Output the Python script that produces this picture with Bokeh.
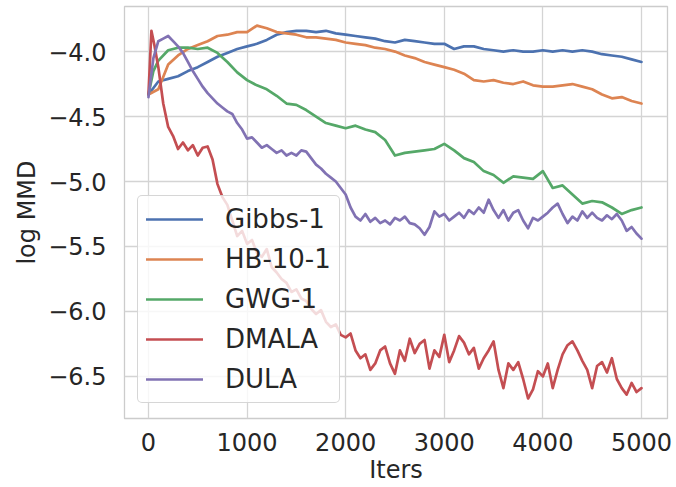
from bokeh.plotting import figure
from bokeh.models import Range1d, FixedTicker
from bokeh.embed import file_html
from bokeh.resources import INLINE

# ---------------- data ----------------
x_gibbs = list(range(0, 5001, 100))
y_gibbs = [-4.33, -4.23, -4.21, -4.19, -4.15, -4.12, -4.08, -4.04, -4.01, -3.98,
           -3.96, -3.94, -3.91, -3.87, -3.85, -3.84, -3.84, -3.85, -3.84, -3.86,
           -3.87, -3.88, -3.89, -3.90, -3.92, -3.93, -3.91, -3.92, -3.93, -3.94,
           -3.94, -3.98, -3.96, -3.96, -3.98, -3.99, -4.00, -3.99, -4.00, -4.00,
           -3.99, -4.00, -3.99, -4.00, -3.99, -4.00, -4.02, -4.03, -4.04, -4.06,
           -4.08]

x_hb = list(range(0, 5001, 100))
y_hb = [-4.33, -4.29, -4.10, -4.03, -3.98, -3.95, -3.92, -3.88, -3.87, -3.85,
        -3.85, -3.80, -3.82, -3.85, -3.86, -3.87, -3.89, -3.89, -3.90, -3.91,
        -3.93, -3.94, -3.95, -3.97, -3.98, -4.00, -4.03, -4.05, -4.08, -4.10,
        -4.12, -4.14, -4.17, -4.22, -4.23, -4.22, -4.24, -4.25, -4.23, -4.26,
        -4.27, -4.27, -4.26, -4.25, -4.27, -4.29, -4.33, -4.36, -4.35, -4.38,
        -4.40]

x_gwg = [0, 50] + list(range(100, 5001, 100))
y_gwg = [-4.33, -4.15, -4.07, -3.99, -3.97, -3.97, -3.98, -3.97, -4.01, -4.08,
         -4.16, -4.22, -4.26, -4.29, -4.34, -4.40, -4.41, -4.45, -4.50, -4.55,
         -4.57, -4.59, -4.57, -4.60, -4.62, -4.68, -4.80, -4.78, -4.77, -4.76,
         -4.75, -4.71, -4.76, -4.82, -4.85, -4.92, -4.95, -5.01, -4.96, -4.97,
         -4.98, -4.92, -5.05, -5.03, -5.10, -5.17, -5.15, -5.16, -5.20, -5.25,
         -5.22, -5.20]

x_dmala = [0, 30, 60] + list(range(100, 5001, 50))
y_dmala = [-4.33, -3.84, -3.95,
           -4.12, -4.40, -4.58, -4.65, -4.75, -4.70, -4.76, -4.72, -4.80, -4.74,
           -4.73, -4.83, -5.02, -5.12, -5.18, -5.30, -5.42, -5.38, -5.48, -5.45,
           -5.55, -5.58, -5.52, -5.66, -5.70, -5.75, -5.78, -5.85, -5.83, -5.90,
           -5.92, -5.98, -6.02, -5.99, -6.08, -6.12, -6.10, -6.18, -6.20, -6.17,
           -6.30, -6.36, -6.33, -6.45, -6.40, -6.30, -6.27, -6.40, -6.48, -6.30,
           -6.38, -6.21, -6.32, -6.25, -6.22, -6.44, -6.30, -6.35, -6.18, -6.39,
           -6.30, -6.19, -6.24, -6.33, -6.28, -6.44, -6.36, -6.30, -6.23, -6.45,
           -6.59, -6.40, -6.45, -6.39, -6.52, -6.67, -6.60, -6.46, -6.50, -6.40,
           -6.59, -6.45, -6.33, -6.26, -6.23, -6.30, -6.38, -6.45, -6.59, -6.42,
           -6.39, -6.47, -6.36, -6.52, -6.59, -6.64, -6.55, -6.62, -6.59]

x_dula = list(range(0, 5001, 50))
y_dula = [-4.35, -4.05, -3.92, -3.90, -3.88, -3.92, -3.96, -4.01, -4.08, -4.15,
          -4.21, -4.27, -4.32, -4.36, -4.40, -4.43, -4.46, -4.48, -4.55, -4.60,
          -4.67, -4.66, -4.70, -4.74, -4.72, -4.75, -4.78, -4.76, -4.80, -4.78,
          -4.80, -4.76, -4.77, -4.82, -4.87, -4.90, -4.94, -4.97, -5.00, -5.05,
          -5.10, -5.20, -5.27, -5.30, -5.25, -5.31, -5.28, -5.32, -5.30, -5.33,
          -5.28, -5.30, -5.27, -5.32, -5.33, -5.36, -5.41, -5.35, -5.23, -5.27,
          -5.25, -5.30, -5.27, -5.24, -5.28, -5.22, -5.25, -5.20, -5.24, -5.14,
          -5.22, -5.28, -5.22, -5.30, -5.24, -5.22, -5.30, -5.36, -5.28, -5.30,
          -5.27, -5.24, -5.20, -5.17, -5.25, -5.32, -5.27, -5.30, -5.23, -5.28,
          -5.24, -5.28, -5.30, -5.26, -5.29, -5.25, -5.30, -5.38, -5.35, -5.40,
          -5.44]

series_names = ["Gibbs-1", "HB-10-1", "GWG-1", "DMALA", "DULA"]
series_colors = ["#4c72b0", "#dd8452", "#55a868", "#c44e52", "#8172b3"]

x_ticks = [0, 1000, 2000, 3000, 4000, 5000]
y_ticks = [-6.5, -6.0, -5.5, -5.0, -4.5, -4.0]
y_tick_labels = ["\u22126.5", "\u22126.0", "\u22125.5", "\u22125.0", "\u22124.5", "\u22124.0"]

# ---------------- figure ----------------
TEXT = "#262626"
FONT = "DejaVu Sans"

p = figure(width=676, height=487, output_backend="svg", toolbar_location=None,
           x_range=Range1d(-243, 5264), y_range=Range1d(-6.824, -3.653),
           min_border_left=124, min_border_right=9, min_border_top=6,
           min_border_bottom=69)

p.background_fill_color = "white"
p.outline_line_color = "#cccccc"
p.outline_line_width = 1.3

for g in (p.xgrid[0], p.ygrid[0]):
    g.grid_line_color = "#d4d4d4"
    g.grid_line_width = 1.3

p.xaxis.ticker = FixedTicker(ticks=x_ticks)
p.yaxis.ticker = FixedTicker(ticks=y_ticks)
p.yaxis.major_label_overrides = {t: l for t, l in zip(y_ticks, y_tick_labels)}

for ax in (p.xaxis[0], p.yaxis[0]):
    ax.axis_line_color = None
    ax.major_tick_line_color = None
    ax.minor_tick_line_color = None
    ax.major_label_text_font = FONT
    ax.major_label_text_font_size = "24px"
    ax.major_label_text_color = TEXT
    ax.axis_label_text_font = FONT
    ax.axis_label_text_font_size = "24px"
    ax.axis_label_text_font_style = "normal"
    ax.axis_label_text_color = TEXT

p.xaxis.axis_label = "Iters"
p.yaxis.axis_label = "log MMD"
p.xaxis.major_label_standoff = 8
p.xaxis.axis_label_standoff = 2
p.yaxis.major_label_standoff = 12
p.yaxis.axis_label_standoff = 4

xs = [x_gibbs, x_hb, x_gwg, x_dmala, x_dula]
ys = [y_gibbs, y_hb, y_gwg, y_dmala, y_dula]
for x, y, name, col in zip(xs, ys, series_names, series_colors):
    p.line(x, y, line_color=col, line_width=2.7, legend_label=name,
           line_join="round", line_cap="round")

lg = p.legend[0]
lg.location = (13, 15)
lg.margin = 0
lg.padding = 8
lg.spacing = 10
lg.glyph_width = 57
lg.glyph_height = 30
lg.label_height = 30
lg.label_standoff = 22
lg.label_text_font = FONT
lg.label_text_font_size = "26px"
lg.label_text_color = TEXT
lg.background_fill_color = "white"
lg.background_fill_alpha = 0.8
lg.border_line_color = "#cccccc"
lg.border_line_alpha = 0.8
lg.border_line_width = 1.2
try:
    lg.border_radius = 5
except Exception:
    pass

open("out.html", "w").write(file_html(p, INLINE))
